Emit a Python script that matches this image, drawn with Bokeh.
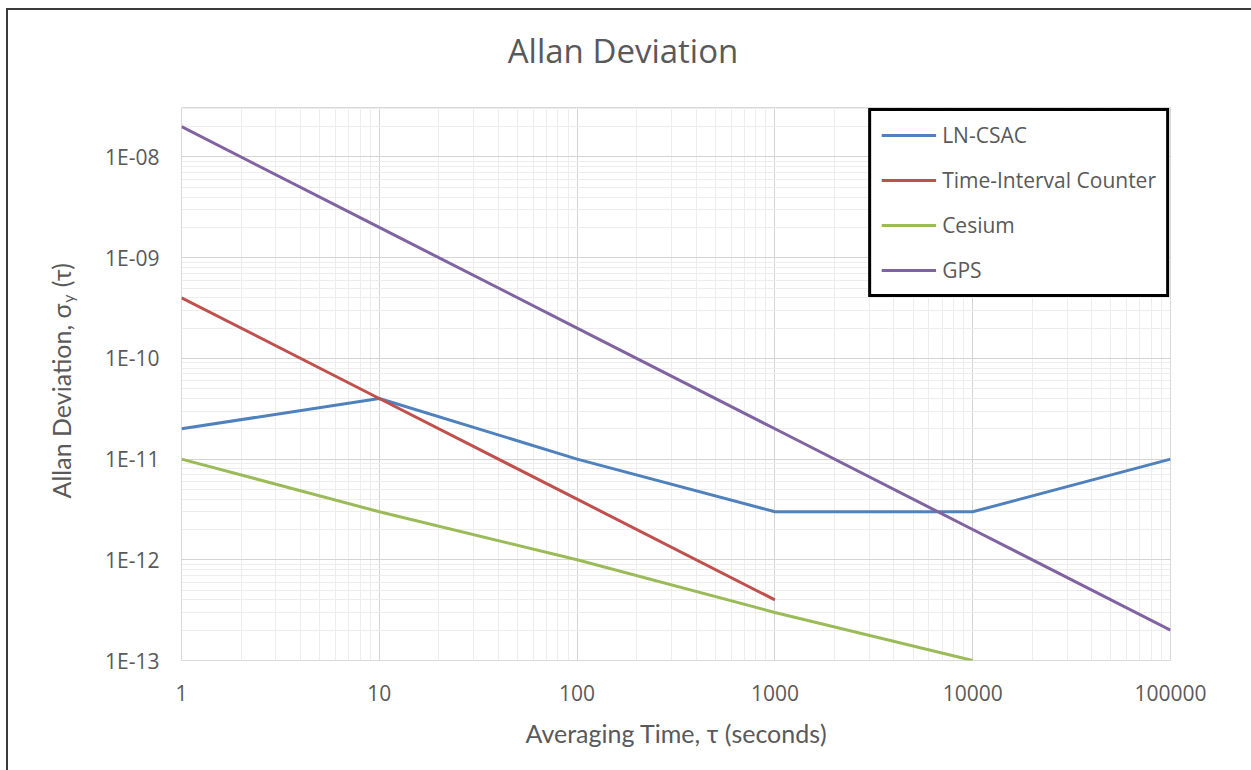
import math
from bokeh.plotting import figure
from bokeh.models import FixedTicker, Legend, LegendItem
from bokeh.layouts import row, column
from bokeh.core.properties import value
from bokeh.embed import file_html
from bokeh.resources import INLINE

# ---- data ----
tau_csac = [1, 10, 100, 1000, 10000, 100000]
adev_csac = [2e-11, 4e-11, 1e-11, 3e-12, 3e-12, 1e-11]
tau_tic = [1, 10, 100, 1000]
adev_tic = [4e-10, 4e-11, 4e-12, 4e-13]
tau_cs = [1, 10, 100, 1000, 10000]
adev_cs = [1e-11, 3e-12, 1e-12, 3e-13, 1e-13]
tau_gps = [1, 10, 100, 1000, 10000, 100000]
adev_gps = [2e-8, 2e-9, 2e-10, 2e-11, 2e-12, 2e-13]

series_names = ["LN-CSAC", "Time-Interval Counter", "Cesium", "GPS"]
series_colors = ["#4f81bd", "#c0504d", "#9bbb59", "#8064a2"]

x_ticks = [1, 10, 100, 1000, 10000, 100000]
x_tick_labels = ["1", "10", "100", "1000", "10000", "100000"]
y_ticks = [1e-13, 1e-12, 1e-11, 1e-10, 1e-9, 1e-8]
y_tick_labels = ["1E-13", "1E-12", "1E-11", "1E-10", "1E-09", "1E-08"]

x_minor = [m * 10.0 ** e for e in range(0, 5) for m in range(2, 10)]
y_minor = [m * 10.0 ** e for e in range(-13, -7) for m in range(2, 10)]

TXT = "#595959"
W = 1243
TH = 80          # title strip height
H = 680          # chart row height
LW = 80          # y-title strip width


def blank(width, height):
    f = figure(width=width, height=height, x_range=(0, width), y_range=(0, height),
               x_axis_type=None, y_axis_type=None, output_backend="svg",
               toolbar_location=None, min_border=0)
    f.outline_line_color = None
    f.xgrid.visible = False
    f.ygrid.visible = False
    return f


# ---- title strip ----
top = blank(W, TH)
top.text(x=[614.5], y=[40], text=["Allan Deviation"], text_align="center",
         text_baseline="alphabetic", text_font=value("Open Sans"),
         text_font_size="33px", text_color=TXT)

# ---- left strip holding the y-axis title (with subscript) ----
left = blank(LW, H)
ang = math.pi / 2
left.text(x=[52], y=[439], text=["Allan Deviation, σ"], angle=ang,
          text_align="right", text_baseline="alphabetic",
          text_font=value("Lato"), text_font_size="25px", text_color=TXT)
left.text(x=[59], y=[440], text=["y"], angle=ang,
          text_align="left", text_baseline="alphabetic",
          text_font=value("Lato"), text_font_size="16px", text_color=TXT)
left.text(x=[52], y=[459], text=["(τ)"], angle=ang,
          text_align="left", text_baseline="alphabetic",
          text_font=value("Lato"), text_font_size="25px", text_color=TXT)

# ---- main chart ----
p = figure(width=W - LW, height=H, x_axis_type="log", y_axis_type="log",
           x_range=(1, 100000), y_range=(1e-13, 3.1e-8),
           output_backend="svg", toolbar_location=None,
           min_border_left=93, min_border_right=81,
           min_border_top=17, min_border_bottom=110)
p.outline_line_color = "#d9d9d9"
p.background_fill_color = "white"
p.border_fill_color = "white"

renderers = []
for xs, ys, c in [(tau_csac, adev_csac, series_colors[0]),
                  (tau_tic, adev_tic, series_colors[1]),
                  (tau_cs, adev_cs, series_colors[2]),
                  (tau_gps, adev_gps, series_colors[3])]:
    r = p.line(xs, ys, line_color=c, line_width=3)
    renderers.append(r)

p.xaxis.ticker = FixedTicker(ticks=x_ticks, minor_ticks=x_minor)
p.yaxis.ticker = FixedTicker(ticks=y_ticks, minor_ticks=y_minor)
p.xaxis.major_label_overrides = {t: l for t, l in zip(x_ticks, x_tick_labels)}
p.yaxis.major_label_overrides = {t: l for t, l in zip(y_ticks, y_tick_labels)}

for ax in (p.xaxis[0], p.yaxis[0]):
    ax.axis_line_color = None
    ax.major_tick_line_color = None
    ax.minor_tick_line_color = None
    ax.major_tick_out = 0
    ax.major_tick_in = 0
    ax.minor_tick_out = 0
    ax.minor_tick_in = 0
    ax.major_label_text_font = "Open Sans"
    ax.major_label_text_font_size = "21px"
    ax.major_label_text_color = TXT
p.xaxis.major_label_standoff = 24
p.yaxis.major_label_standoff = 22

p.xaxis.axis_label = "Averaging Time, τ (seconds)"
p.xaxis.axis_label_text_font = "Lato"
p.xaxis.axis_label_text_font_style = "normal"
p.xaxis.axis_label_text_font_size = "25px"
p.xaxis.axis_label_text_color = TXT
p.xaxis.axis_label_standoff = 14

p.xgrid.grid_line_color = "#d4d4d4"
p.ygrid.grid_line_color = "#d4d4d4"
p.xgrid.minor_grid_line_color = "#ededed"
p.ygrid.minor_grid_line_color = "#ededed"

legend = Legend(items=[LegendItem(label=n, renderers=[r]) for n, r in zip(series_names, renderers)],
                location="top_right", margin=1, padding=10,
                border_line_color="black", border_line_width=3, border_line_alpha=1.0,
                glyph_width=55, glyph_height=20, label_height=20,
                spacing=17, label_standoff=6,
                label_text_font="Open Sans", label_text_font_size="21px",
                label_text_color=TXT, background_fill_alpha=1.0)
p.add_layout(legend)

layout = column(top, row(left, p))
layout.styles = {"margin-left": "6px", "margin-top": "8px",
                 "border-left": "2px solid #3a3a3a", "border-top": "2px solid #3a3a3a"}

open("out.html", "w").write(file_html(layout, INLINE))
